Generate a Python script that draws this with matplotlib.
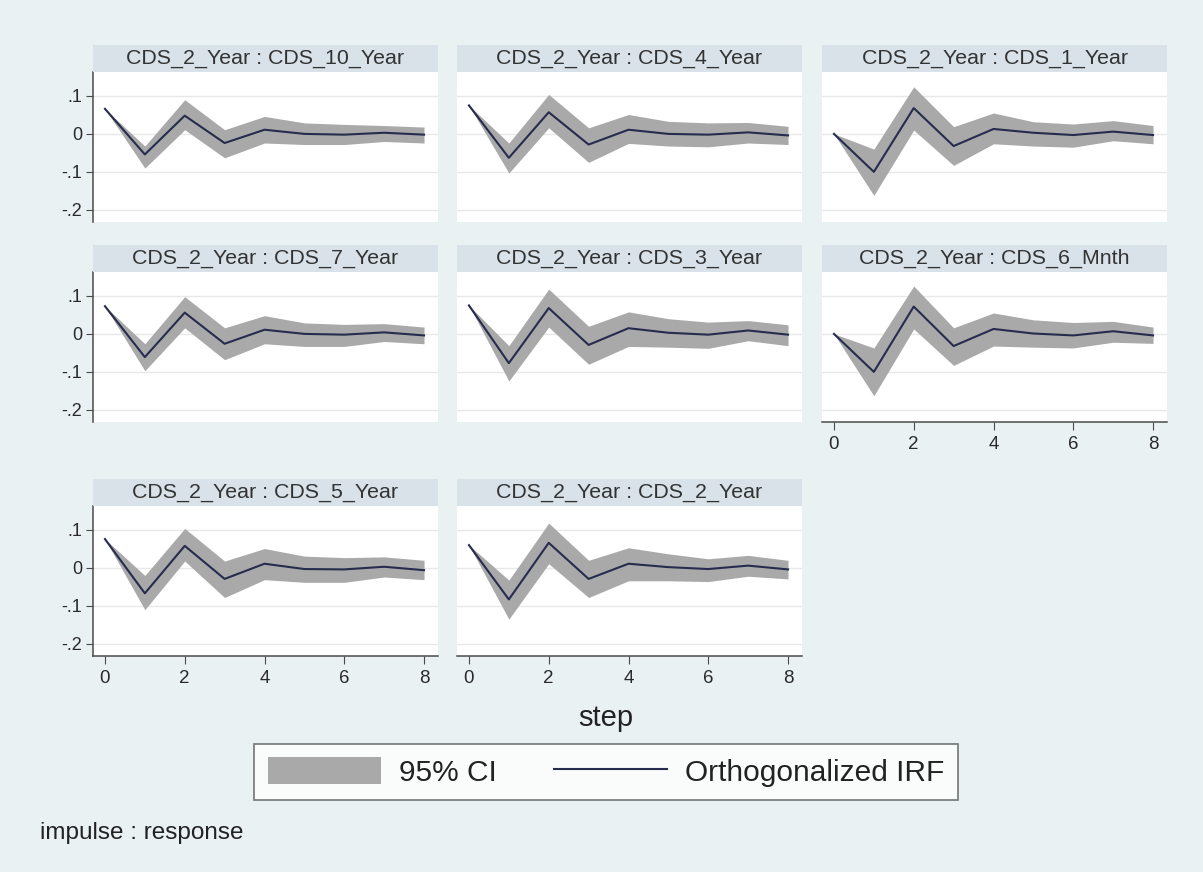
import numpy as np
import matplotlib.pyplot as plt
from matplotlib.patches import Patch
from matplotlib.lines import Line2D

plt.rcParams['font.family'] = ['Liberation Sans', 'DejaVu Sans']

### irf values ###
steps = np.arange(9)

titles = ["CDS_2_Year : CDS_10_Year", "CDS_2_Year : CDS_4_Year", "CDS_2_Year : CDS_1_Year",
          "CDS_2_Year : CDS_7_Year", "CDS_2_Year : CDS_3_Year", "CDS_2_Year : CDS_6_Mnth",
          "CDS_2_Year : CDS_5_Year", "CDS_2_Year : CDS_2_Year"]

irf_10y = [0.066, -0.054, 0.048, -0.024, 0.011, 0.0, -0.002, 0.003, -0.002]
lo_10y = [0.066, -0.090, 0.011, -0.063, -0.024, -0.028, -0.028, -0.020, -0.024]
hi_10y = [0.066, -0.032, 0.090, 0.011, 0.046, 0.029, 0.025, 0.022, 0.018]

irf_4y = [0.075, -0.063, 0.057, -0.028, 0.011, 0.0, -0.002, 0.004, -0.004]
lo_4y = [0.075, -0.103, 0.016, -0.075, -0.025, -0.032, -0.034, -0.024, -0.028]
hi_4y = [0.075, -0.024, 0.104, 0.016, 0.051, 0.033, 0.029, 0.030, 0.020]

irf_1y = [0.0, -0.100, 0.068, -0.032, 0.013, 0.003, -0.003, 0.006, -0.003]
lo_1y = [0.0, -0.162, 0.010, -0.083, -0.026, -0.032, -0.035, -0.018, -0.026]
hi_1y = [0.0, -0.040, 0.124, 0.019, 0.055, 0.032, 0.026, 0.035, 0.022]

irf_7y = [0.073, -0.061, 0.056, -0.026, 0.011, 0.0, -0.002, 0.004, -0.004]
lo_7y = [0.073, -0.097, 0.016, -0.068, -0.026, -0.033, -0.033, -0.020, -0.026]
hi_7y = [0.073, -0.026, 0.098, 0.016, 0.048, 0.029, 0.025, 0.027, 0.018]

irf_3y = [0.075, -0.077, 0.068, -0.029, 0.015, 0.003, -0.002, 0.009, -0.002]
lo_3y = [0.075, -0.124, 0.018, -0.080, -0.033, -0.035, -0.038, -0.018, -0.031]
hi_3y = [0.075, -0.031, 0.118, 0.020, 0.058, 0.040, 0.031, 0.035, 0.024]

irf_6m = [0.0, -0.100, 0.072, -0.032, 0.013, 0.001, -0.004, 0.007, -0.004]
lo_6m = [0.0, -0.163, 0.013, -0.083, -0.032, -0.035, -0.037, -0.022, -0.025]
hi_6m = [0.0, -0.037, 0.126, 0.016, 0.055, 0.037, 0.030, 0.033, 0.018]

irf_5y = [0.076, -0.067, 0.058, -0.029, 0.011, -0.003, -0.004, 0.003, -0.006]
lo_5y = [0.076, -0.110, 0.018, -0.078, -0.031, -0.038, -0.038, -0.024, -0.031]
hi_5y = [0.076, -0.020, 0.104, 0.018, 0.051, 0.031, 0.027, 0.029, 0.020]

irf_2y = [0.060, -0.083, 0.066, -0.029, 0.011, 0.002, -0.003, 0.006, -0.004]
lo_2y = [0.060, -0.135, 0.011, -0.078, -0.034, -0.034, -0.036, -0.022, -0.029]
hi_2y = [0.060, -0.032, 0.118, 0.020, 0.053, 0.037, 0.024, 0.033, 0.020]

irfs = [irf_10y, irf_4y, irf_1y, irf_7y, irf_3y, irf_6m, irf_5y, irf_2y]
los = [lo_10y, lo_4y, lo_1y, lo_7y, lo_3y, lo_6m, lo_5y, lo_2y]
his = [hi_10y, hi_4y, hi_1y, hi_7y, hi_3y, hi_6m, hi_5y, hi_2y]

yticks = [0.1, 0.0, -0.1, -0.2]
ytick_labels = [".1", "0", "-.1", "-.2"]
xticks = [0, 2, 4, 6, 8]

bg = "#eaf1f3"
strip_col = "#d8e2e8"
line_col = "#272c4e"
ci_col = "#a9a9a9"
axis_col = "#4a4a4a"

W, H = 1203, 872
fig = plt.figure(figsize=(W / 100, H / 100), dpi=100, facecolor=bg)

col_left = [93, 457, 822]
row_top = [72, 272, 506]
pw, ph, sh = 345, 150, 27

for i in range(8):
    r, c = divmod(i, 3)
    x0, y0 = col_left[c], row_top[r]
    ax = fig.add_axes([x0 / W, 1 - (y0 + ph) / H, pw / W, ph / H])
    ax.set_facecolor("white")
    ax.fill_between(steps, los[i], his[i], color=ci_col, lw=0)
    ax.plot(steps, irfs[i], color=line_col, lw=1.5)
    ax.set_xlim(-0.3, 8.35)
    ax.set_ylim(-0.232, 0.163)
    ax.set_yticks(yticks)
    ax.set_yticklabels(ytick_labels)
    ax.set_xticks(xticks)
    ax.grid(axis='y', color="#e8e8e8", lw=1)
    ax.set_axisbelow(True)
    for s in ax.spines.values():
        s.set_visible(False)

    show_y = (c == 0)
    show_x = (r == 2) or (r == 1 and c == 2)
    ax.tick_params(axis='y', left=show_y, labelleft=show_y, length=5, color=axis_col,
                   labelsize=13, labelcolor="#2a2a2a", pad=3)
    ax.tick_params(axis='x', bottom=show_x, labelbottom=show_x, length=6, color=axis_col,
                   labelsize=13.5, labelcolor="#2a2a2a", pad=4)
    if show_y:
        ax.spines['left'].set_visible(True)
        ax.spines['left'].set_color(axis_col)
        ax.spines['left'].set_linewidth(1.1)
    if show_x:
        ax.spines['bottom'].set_visible(True)
        ax.spines['bottom'].set_color(axis_col)
        ax.spines['bottom'].set_linewidth(1.1)

    # title strip
    sax = fig.add_axes([x0 / W, 1 - y0 / H, pw / W, sh / H])
    sax.set_facecolor(strip_col)
    sax.set_xticks([])
    sax.set_yticks([])
    for s in sax.spines.values():
        s.set_visible(False)
    sax.text(0.5, 0.5, titles[i], ha='center', va='center', fontsize=15.4, color="#333333",
             transform=sax.transAxes)

fig.text(606 / W, 1 - 718 / H, "step", ha='center', va='center', fontsize=21, color="#222222")

handles = [Patch(facecolor=ci_col, edgecolor='none'),
           Line2D([0], [0], color=line_col, lw=1.5)]
leg = fig.legend(handles, ["95% CI", "Orthogonalized IRF"], loc='center',
                 bbox_to_anchor=(606 / W, 1 - 772 / H), ncol=2, fontsize=21.5,
                 frameon=True, fancybox=False, edgecolor="#555555", facecolor="white",
                 handlelength=3.8, handleheight=1.0, handletextpad=0.6, columnspacing=1.9,
                 borderpad=0.45, borderaxespad=0)
leg.get_frame().set_linewidth(1.2)
for t in leg.get_texts():
    t.set_color("#222222")

fig.text(40 / W, 1 - 833 / H, "impulse : response", ha='left', va='center', fontsize=17.5,
         color="#222222")

fig.savefig("out.png", dpi=100, facecolor=bg)
